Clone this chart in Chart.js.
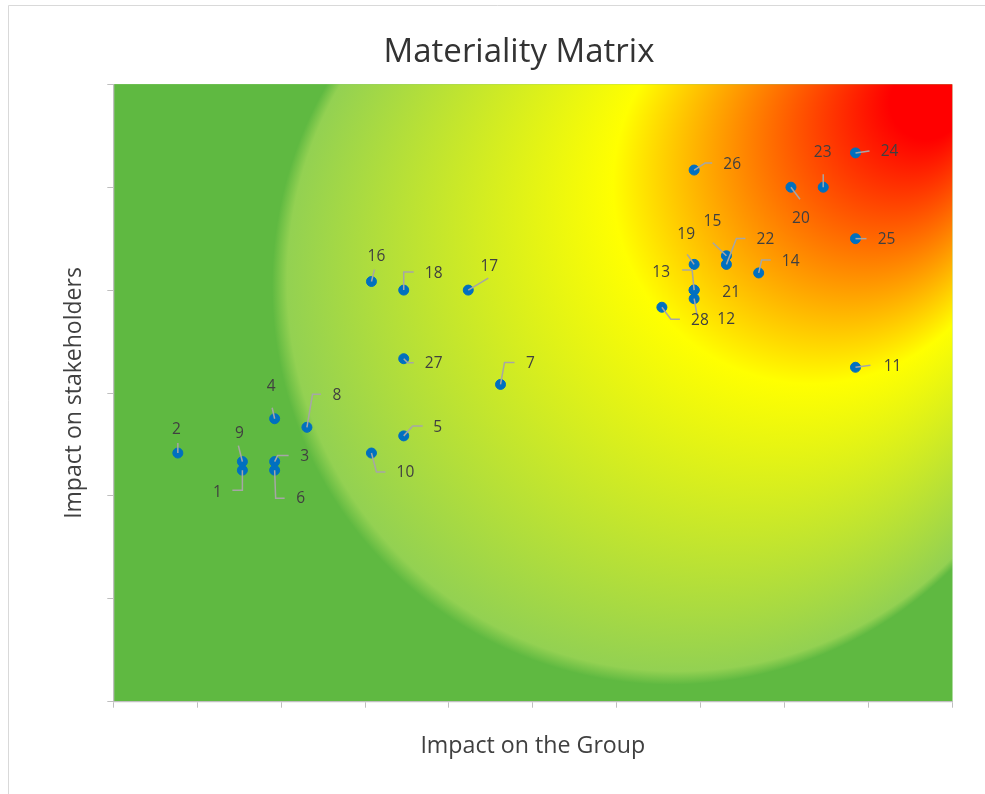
<!DOCTYPE html>
<html>
<head>
<meta charset="utf-8">
<title>Materiality Matrix</title>
<script src="https://cdn.jsdelivr.net/npm/chart.js@4.4.1/dist/chart.umd.min.js"></script>
<style>
  html, body { margin: 0; padding: 0; background: #fff; }
  #wrap { position: absolute; left: 0; top: 0; width: 985px; height: 794px; }
</style>
</head>
<body>
<div id="wrap"><canvas id="matrix" width="985" height="794"></canvas></div>
<script>
// Data: issue numbers and their scores
const issueIds = ["1", "2", "3", "4", "5", "6", "7", "8", "9", "10", "11", "12", "13", "14",
  "15", "16", "17", "18", "19", "20", "21", "22", "23", "24", "25", "26", "27", "28"];
const groupImpact = [4, 2, 5, 5, 9, 5, 12, 6, 4, 8, 23, 18, 18, 20,
  19, 8, 11, 9, 18, 21, 18, 19, 22, 23, 23, 18, 9, 17];
const stakeholderImpact = [27, 29, 28, 33, 31, 27, 37, 32, 28, 29, 39, 47, 48, 50,
  52, 49, 48, 48, 51, 60, 48, 51, 60, 64, 54, 62, 40, 46];

// Axis ranges (no tick labels are shown)
const xTicks = [0, 2.6, 5.2, 7.8, 10.4, 13, 15.6, 18.2, 20.8, 23.4, 26];
const yTicks = [0, 12, 24, 36, 48, 60, 72];

// Label placement relative to each point (pixels): text centre and leader line path
const labelPlacement = [
  { text: [-25, 22], leader: [[0, 20], [-10, 20]] },   // 1
  { text: [-1.5, -23], leader: [[0, -10]] },           // 2
  { text: [30, -5], leader: [[3, -6], [14, -6]] },     // 3
  { text: [-3.5, -32], leader: [[-2.5, -11]] },        // 4
  { text: [34, -8], leader: [[9, -10], [19, -10]] },   // 5
  { text: [26, 28], leader: [[1, 28], [10, 28]] },     // 6
  { text: [30, -21], leader: [[4, -22], [14, -22]] },  // 7
  { text: [30, -32], leader: [[5.6, -33], [14, -33]] },// 8
  { text: [-3, -28], leader: [[-4, -16]] },            // 9
  { text: [34, 20], leader: [[5, 19], [14, 19]] },     // 10
  { text: [37, -1], leader: [[15, -2]] },              // 11
  { text: [32, 21], leader: [[3, 17]] },               // 12
  { text: [-33, -18], leader: [[-2, -20], [-12, -20]] },// 13
  { text: [32, -11], leader: [[3, -13], [12, -13]] },  // 14
  { text: [-14, -34], leader: [[-13.6, -13]] },        // 15
  { text: [5, -25], leader: [[3, -12]] },              // 16
  { text: [21, -24], leader: [[20, -12]] },            // 17
  { text: [30, -17], leader: [[0, -18], [10, -18]] },  // 18
  { text: [-8, -30], leader: [[-7, -10]] },            // 19
  { text: [10, 31], leader: [[9, 12]] },               // 20
  { text: [37, 2], leader: [] },                       // 21
  { text: [39, -25], leader: [[10, -26], [19, -26]] }, // 22
  { text: [-0.5, -35], leader: [[0, -13]] },           // 23
  { text: [34, -1], leader: [[14, -2]] },              // 24
  { text: [31, 1], leader: [[11, 0]] },                // 25
  { text: [38, -5], leader: [[11, -7], [18, -7]] },    // 26
  { text: [30, 5], leader: [[4, 4], [10, 4]] },        // 27
  { text: [38, 13], leader: [[9, 12], [18, 12]] }      // 28
];

const points = groupImpact.map((x, i) => ({ x: x, y: stakeholderImpact[i] }));

// Frame and heat-map background of the plot area
const backgroundPlugin = {
  id: "heatBackground",
  beforeDraw(chart) {
    const ctx = chart.ctx;
    const ca = chart.chartArea;
    ctx.save();
    ctx.fillStyle = "#ffffff";
    ctx.fillRect(0, 0, chart.width, chart.height);

    // outer chart border (left and top visible)
    ctx.strokeStyle = "#D9D9D9";
    ctx.lineWidth = 1;
    ctx.beginPath();
    ctx.moveTo(8.5, 800);
    ctx.lineTo(8.5, 5.5);
    ctx.lineTo(990, 5.5);
    ctx.stroke();

    // radial gradient focused on the top-right corner
    const w = ca.right - ca.left;
    const h = ca.bottom - ca.top;
    const fx = ca.right;
    const fy = ca.top;
    const grad = ctx.createRadialGradient(fx, fy, 0, fx - 0.4402 * w, fy + 0.4284 * h, 0.6238 * w);
    grad.addColorStop(0, "#FF0000");
    grad.addColorStop(0.07, "#FF0000");
    grad.addColorStop(0.38, "#FFFF00");
    grad.addColorStop(0.745, "#93D152");
    grad.addColorStop(0.762, "#5FB941");
    grad.addColorStop(1, "#5FB941");
    ctx.fillStyle = "#5FB941";
    ctx.fillRect(ca.left, ca.top, w, h);
    ctx.fillStyle = grad;
    ctx.fillRect(ca.left, ca.top, w, h);
    ctx.restore();
  }
};

// Number labels with grey leader lines
const labelPlugin = {
  id: "pointLabels",
  afterDatasetsDraw(chart) {
    const ctx = chart.ctx;
    const meta = chart.getDatasetMeta(0);
    ctx.save();
    ctx.strokeStyle = "#A6A6A6";
    ctx.lineWidth = 1.5;
    ctx.font = "15.5px 'Open Sans'";
    ctx.fillStyle = "#404040";
    ctx.textAlign = "center";
    ctx.textBaseline = "middle";
    meta.data.forEach((pt, i) => {
      const place = labelPlacement[i];
      if (place.leader.length) {
        ctx.beginPath();
        ctx.moveTo(pt.x, pt.y);
        place.leader.forEach(([dx, dy]) => ctx.lineTo(pt.x + dx, pt.y + dy));
        ctx.stroke();
      }
      ctx.fillText(issueIds[i], pt.x + place.text[0], pt.y + place.text[1]);
    });
    ctx.restore();
  }
};

Chart.defaults.font.family = "'Open Sans'";
Chart.defaults.color = "#404040";

const axisGrid = {
  display: true,
  drawOnChartArea: false,
  drawTicks: true,
  tickLength: 6,
  color: "#BFBFBF",
  lineWidth: 1
};

new Chart(document.getElementById("matrix"), {
  type: "scatter",
  data: {
    datasets: [{
      label: "Issues",
      data: points,
      backgroundColor: "#0070C0",
      borderColor: "#0070C0",
      borderWidth: 1,
      pointRadius: 5,
      pointHoverRadius: 5
    }]
  },
  options: {
    responsive: false,
    animation: false,
    layout: { padding: { left: 85.7, right: 32.7, top: 0, bottom: 0 } },
    plugins: {
      legend: { display: false },
      tooltip: { enabled: false },
      title: {
        display: true,
        text: "Materiality Matrix",
        color: "#333333",
        font: { size: 33, weight: "normal" },
        padding: { top: 33.2, bottom: 11.5 }
      }
    },
    scales: {
      x: {
        type: "linear",
        min: 0,
        max: 26,
        afterBuildTicks: (scale) => { scale.ticks = xTicks.map((v) => ({ value: v })); },
        afterFit: (scale) => { scale.height = 794 - 701.7; },
        ticks: { display: false },
        grid: axisGrid,
        border: { display: true, color: "#BFBFBF", width: 1.3 },
        title: {
          display: true,
          text: "Impact on the Group",
          color: "#404040",
          font: { size: 23.2 },
          padding: { top: 0, bottom: 33.6 }
        }
      },
      y: {
        type: "linear",
        min: 0,
        max: 72,
        afterBuildTicks: (scale) => { scale.ticks = yTicks.map((v) => ({ value: v })); },
        afterFit: (scale) => { scale.width = 113.3 - 85.7; },
        ticks: { display: false },
        grid: axisGrid,
        border: { display: true, color: "#BFBFBF", width: 1.3 },
        title: {
          display: true,
          text: "Impact on stakeholders",
          color: "#404040",
          font: { size: 23 },
          padding: { top: -25.5, bottom: 0 }
        }
      }
    }
  },
  plugins: [backgroundPlugin, labelPlugin]
});
</script>
</body>
</html>
